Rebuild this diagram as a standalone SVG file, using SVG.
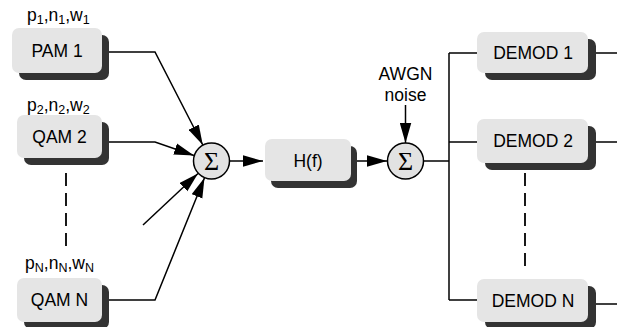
<svg xmlns="http://www.w3.org/2000/svg" width="623" height="327" viewBox="0 0 623 327">
<defs>
<style>
.box{fill:#e5e5e5;}
.sh{fill:#333333;}
.lbl{font-family:"Liberation Sans",Arial,sans-serif;font-size:17.5px;fill:#000;}
.c{text-anchor:middle;}
.ln{fill:none;stroke:#000;stroke-width:1.5;}
.arr{fill:none;stroke:#000;stroke-width:1.5;marker-end:url(#ah);}
.dash{fill:none;stroke:#000;stroke-width:1.8;stroke-dasharray:13 7;}
.sum{fill:#e2e2e2;stroke:#000;stroke-width:1.5;}
.sig{font-family:"Liberation Serif","Times New Roman",serif;font-size:26px;fill:#000;text-anchor:middle;}
</style>
<marker id="ah" markerUnits="userSpaceOnUse" markerWidth="20" markerHeight="12" refX="20" refY="5.75" orient="auto" viewBox="0 0 20 11.5">
<path d="M0,0 L20,5.75 L0,11.5 Z" fill="#000"/>
</marker>
</defs>
<g id="connectors">
<path class="arr" d="M102,52 L155,52 L202.8,145"/>
<path class="arr" d="M102,142 L155,142 L194,155.5"/>
<path class="arr" d="M143,225 L198,173.5"/>
<path class="arr" d="M102,300 L155,300 L204.5,177.8"/>
<path class="arr" d="M229.5,161 L263,161"/>
<path class="arr" d="M357,161 L387,161"/>
<path class="arr" d="M405.5,105 L405.5,143"/>
<path class="ln" d="M423.5,161 L449,161"/>
<path class="ln" d="M449,53 L449,300"/>
<path class="ln" d="M449,53 L478,53"/>
<path class="ln" d="M449,142 L478,142"/>
<path class="ln" d="M449,300 L478,300"/>
<path class="ln" d="M596,53 L617,53"/>
<path class="ln" d="M596,142 L617,142"/>
<path class="ln" d="M596,304 L617,304"/>
<path class="dash" d="M66,173 L66,246"/>
<path class="dash" d="M525,173 L525,266"/>
</g>
<g id="pam1">
<rect class="sh" x="19" y="35" width="90" height="45" rx="7"/>
<rect class="box" x="12" y="28" width="90" height="45" rx="7"/>
<text class="lbl c" x="57" y="57">PAM 1</text>
<text class="lbl" x="27" y="21">p<tspan font-size="12.5" dy="3">1</tspan><tspan dy="-3">,n</tspan><tspan font-size="12.5" dy="3">1</tspan><tspan dy="-3">,w</tspan><tspan font-size="12.5" dy="3">1</tspan></text>
</g>
<g id="qam2">
<rect class="sh" x="24" y="122" width="85" height="43" rx="7"/>
<rect class="box" x="17" y="115" width="85" height="43" rx="7"/>
<text class="lbl c" x="59.5" y="142.5">QAM 2</text>
<text class="lbl" x="27" y="111">p<tspan font-size="12.5" dy="3">2</tspan><tspan dy="-3">,n</tspan><tspan font-size="12.5" dy="3">2</tspan><tspan dy="-3">,w</tspan><tspan font-size="12.5" dy="3">2</tspan></text>
</g>
<g id="qamN">
<rect class="sh" x="24" y="285" width="85" height="44" rx="7"/>
<rect class="box" x="17" y="278" width="85" height="44" rx="7"/>
<text class="lbl c" x="59.5" y="306">QAM N</text>
<text class="lbl" x="25" y="269">p<tspan font-size="12.5" dy="3">N</tspan><tspan dy="-3">,n</tspan><tspan font-size="12.5" dy="3">N</tspan><tspan dy="-3">,w</tspan><tspan font-size="12.5" dy="3">N</tspan></text>
</g>
<g id="sum1">
<circle class="sum" cx="211.5" cy="161" r="18"/>
<text class="sig" x="211.5" y="170">Σ</text>
</g>
<g id="hf">
<rect class="sh" x="271" y="146" width="86" height="42" rx="7"/>
<rect class="box" x="265" y="139" width="86" height="42" rx="7"/>
<text class="lbl c" x="308" y="166.5">H(f)</text>
</g>
<g id="sum2">
<circle class="sum" cx="405.5" cy="161" r="18"/>
<text class="sig" x="405.5" y="170">Σ</text>
</g>
<g id="awgn">
<text class="lbl c" x="405.5" y="80">AWGN</text>
<text class="lbl c" x="405.5" y="101">noise</text>
</g>
<g id="demod1">
<rect class="sh" x="485" y="39" width="111" height="41" rx="7"/>
<rect class="box" x="477" y="32" width="111" height="41" rx="7"/>
<text class="lbl c" x="533" y="59">DEMOD 1</text>
</g>
<g id="demod2">
<rect class="sh" x="485" y="126" width="111" height="44" rx="7"/>
<rect class="box" x="477" y="119" width="111" height="44" rx="7"/>
<text class="lbl c" x="533" y="147">DEMOD 2</text>
</g>
<g id="demodN">
<rect class="sh" x="485" y="286" width="111" height="43" rx="7"/>
<rect class="box" x="477" y="279" width="111" height="43" rx="7"/>
<text class="lbl c" x="533" y="306.5">DEMOD N</text>
</g>
</svg>
